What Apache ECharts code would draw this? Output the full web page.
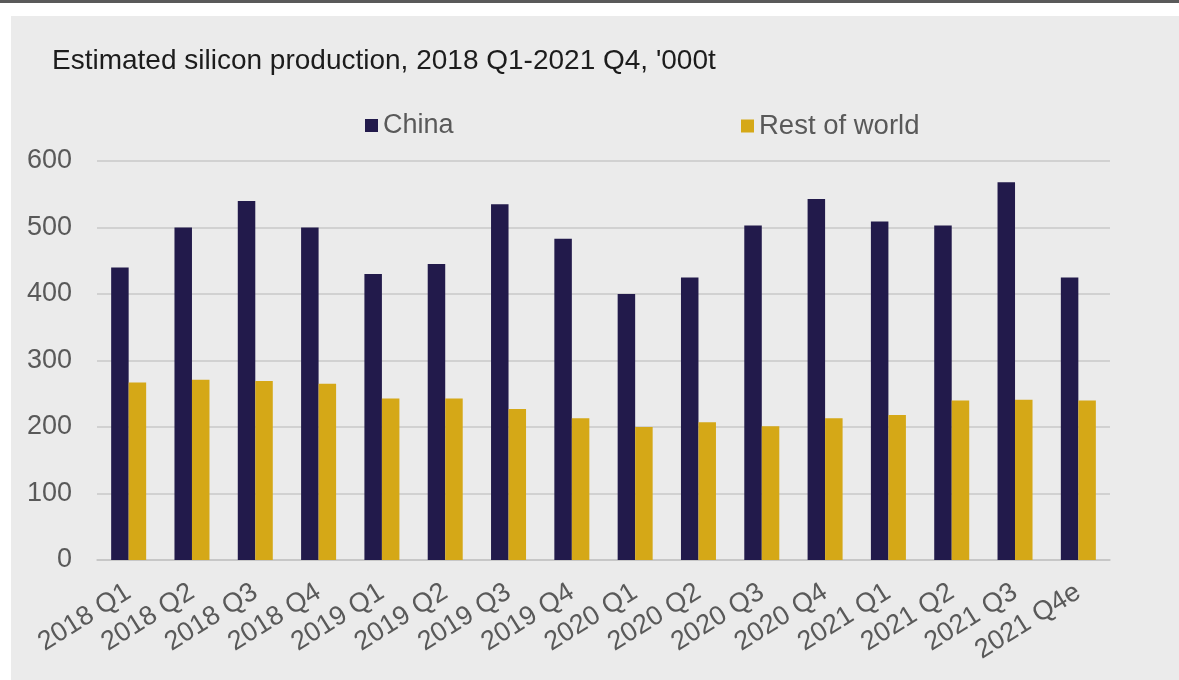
<!DOCTYPE html>
<html>
<head>
<meta charset="utf-8">
<script src="https://cdn.jsdelivr.net/npm/echarts@6/dist/echarts.min.js"></script>
<style>
  html, body { margin: 0; padding: 0; background: #ffffff; }
  #chart { width: 1179px; height: 680px; }
</style>
</head>
<body>
<div id="chart"></div>
<script>
const categories = ["2018 Q1","2018 Q2","2018 Q3","2018 Q4","2019 Q1","2019 Q2","2019 Q3","2019 Q4","2020 Q1","2020 Q2","2020 Q3","2020 Q4","2021 Q1","2021 Q2","2021 Q3","2021 Q4e"];
const china = [440, 500, 540, 500, 430, 445, 535, 483, 400, 425, 503, 543, 509, 503, 568, 425];
const restOfWorld = [267, 271, 269, 265, 243, 243, 227, 213, 200, 207, 201, 213, 218, 240, 241, 240];
const yTicks = [0, 100, 200, 300, 400, 500, 600];

const FONT = '"Liberation Sans", Arial, sans-serif';
const chart = echarts.init(document.getElementById('chart'), null, { renderer: 'canvas' });

chart.setOption({
  animation: false,
  backgroundColor: '#ffffff',
  graphic: [
    { type: 'rect', z: -10, shape: { x: 0, y: 0, width: 1179, height: 3 }, style: { fill: '#5a5a5a' } },
    { type: 'rect', z: -10, shape: { x: 11, y: 16, width: 1168, height: 664 }, style: { fill: '#ebebeb' } }
  ],
  title: {
    text: "Estimated silicon production, 2018 Q1-2021 Q4, '000t",
    left: 47, top: 42,
    textStyle: { fontFamily: FONT, fontSize: 28, fontWeight: 'normal', color: '#1c1c1c' }
  },
  legend: [
    {
      data: ['China'], left: 360, top: 107,
      itemWidth: 13, itemHeight: 13, icon: 'rect', itemGap: 5,
      textStyle: { fontFamily: FONT, fontSize: 27, color: '#595959' }
    },
    {
      data: ['Rest of world'], left: 736, top: 107,
      itemWidth: 13, itemHeight: 13, icon: 'rect', itemGap: 5,
      textStyle: { fontFamily: FONT, fontSize: 27.5, color: '#595959' }
    }
  ],
  grid: { left: 97, right: 69, top: 161, bottom: 120, containLabel: false, outerBoundsMode: 'none' },
  xAxis: {
    type: 'category',
    data: categories,
    axisLine: { show: true, lineStyle: { color: '#c4c4c4', width: 1.5 } },
    axisTick: { show: false },
    axisLabel: {
      interval: 0, rotate: 32, margin: 30,
      fontFamily: FONT, fontSize: 27, color: '#595959'
    }
  },
  yAxis: {
    type: 'value',
    min: 0, max: 600, interval: 100,
    axisLine: { show: false },
    axisTick: { show: false },
    splitLine: { lineStyle: { color: '#c8c8c8', width: 1.5 } },
    axisLabel: {
      margin: 25, fontFamily: FONT, fontSize: 27, color: '#595959',
      formatter: function (v) { return yTicks.indexOf(v) >= 0 ? String(v) : ''; }
    }
  },
  series: [
    {
      name: 'China', type: 'bar', data: china,
      barWidth: 17.5, barGap: '0%',
      itemStyle: { color: '#221a4b' }
    },
    {
      name: 'Rest of world', type: 'bar', data: restOfWorld,
      barWidth: 17.5, barGap: '0%',
      itemStyle: { color: '#d5a817' }
    }
  ]
});
</script>
</body>
</html>
